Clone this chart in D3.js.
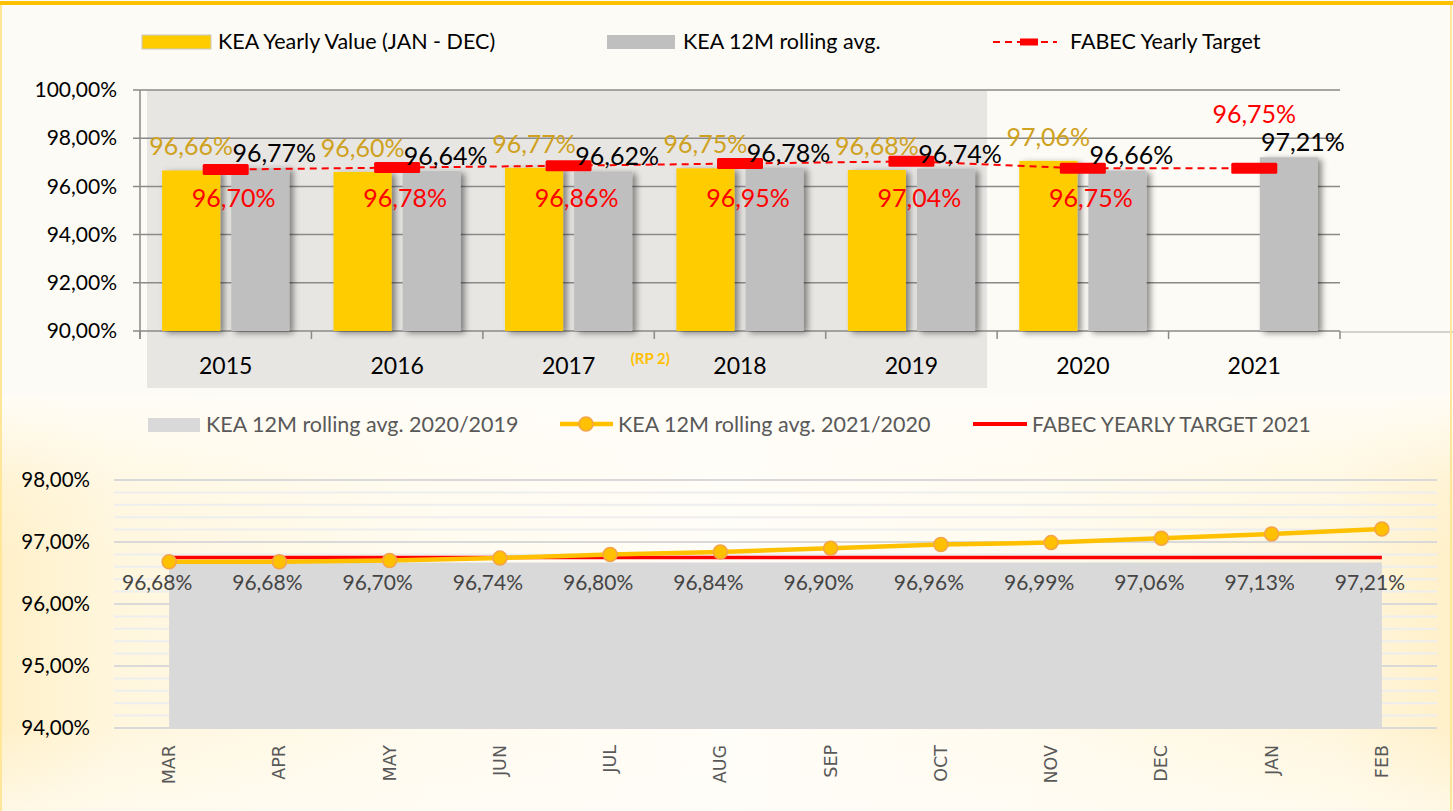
<!DOCTYPE html>
<html>
<head>
<meta charset="utf-8">
<script src="https://cdn.jsdelivr.net/npm/d3@7"></script>
<style>
  body { margin: 0; background: #fff; }
  svg { display: block; font-family: Lato, "Open Sans", sans-serif; }
</style>
</head>
<body>
<div class="chart"></div>
<script>
var svgWidth = 1453;
var svgHeight = 811;

// top chart data
var years = ["2015", "2016", "2017", "2018", "2019", "2020", "2021"];
var yearlyValue = [96.66, 96.60, 96.77, 96.75, 96.68, 97.06, null];
var rollingAvg = [96.77, 96.64, 96.62, 96.78, 96.74, 96.66, 97.21];
var yearlyTarget = [96.70, 96.78, 96.86, 96.95, 97.04, 96.75, 96.75];
var topTicks = [90, 92, 94, 96, 98, 100];

// bottom chart data
var months = ["MAR", "APR", "MAY", "JUN", "JUL", "AUG", "SEP", "OCT", "NOV", "DEC", "JAN", "FEB"];
var rolling2020 = [96.67, 96.67, 96.67, 96.67, 96.67, 96.67, 96.67, 96.67, 96.67, 96.67, 96.67, 96.67];
var rolling2021 = [96.68, 96.68, 96.70, 96.74, 96.80, 96.84, 96.90, 96.96, 96.99, 97.06, 97.13, 97.21];
var target2021 = [96.75, 96.75, 96.75, 96.75, 96.75, 96.75, 96.75, 96.75, 96.75, 96.75, 96.75, 96.75];
var bottomTicks = [94, 95, 96, 97, 98];

function pct(v) { return v.toFixed(2).replace(".", ",") + "%"; }

var svg = d3.select(".chart")
  .append("svg")
  .attr("width", svgWidth)
  .attr("height", svgHeight);

var defs = svg.append("defs");
var shadow = defs.append("filter").attr("id", "shadow")
  .attr("x", "-20%").attr("y", "-10%").attr("width", "150%").attr("height", "130%");
shadow.append("feDropShadow").attr("dx", 4).attr("dy", 2).attr("stdDeviation", 3)
  .attr("flood-color", "#000").attr("flood-opacity", 0.45);

// bottom background: yellow towards the sides, cream in the middle, fading at top
var hGrad = defs.append("linearGradient").attr("id", "bgH");
[[0, "#FFF0C8"], [0.08, "#FFF6DD"], [0.3, "#FFFBEF"], [0.5, "#FFFDF7"],
 [0.7, "#FFFBEF"], [0.92, "#FFF6DD"], [1, "#FFF0C8"]].forEach(function(s) {
  hGrad.append("stop").attr("offset", s[0]).attr("stop-color", s[1]);
});
var vGrad = defs.append("linearGradient").attr("id", "bgV")
  .attr("x1", 0).attr("y1", 0).attr("x2", 0).attr("y2", 1);
[[0, 0.95], [0.22, 0.2], [0.4, 0], [0.8, 0], [1, 0.6]].forEach(function(s) {
  vGrad.append("stop").attr("offset", s[0]).attr("stop-color", "#FFFDF8").attr("stop-opacity", s[1]);
});

// backgrounds
svg.append("rect").attr("x", 0).attr("y", 0).attr("width", svgWidth).attr("height", 396)
  .attr("fill", "#FDFBF5");
svg.append("rect").attr("x", 0).attr("y", 396).attr("width", svgWidth).attr("height", svgHeight - 396)
  .attr("fill", "url(#bgH)");
svg.append("rect").attr("x", 0).attr("y", 396).attr("width", svgWidth).attr("height", svgHeight - 396)
  .attr("fill", "url(#bgV)");

// ================= TOP CHART =================
var topG = svg.append("g");

var x = d3.scaleBand().domain(years).range([140, 1340]);
var sub = d3.scaleBand().domain(["value", "avg"]).range([0, x.bandwidth()])
  .paddingInner(0.16).paddingOuter(0.32);
var y = d3.scaleLinear().domain([90, 100]).range([331, 90]);

// RP2 shaded period
topG.append("rect")
  .attr("x", x("2015") + 7)
  .attr("y", y(100))
  .attr("width", x("2020") - 10 - (x("2015") + 7))
  .attr("height", 388 - y(100))
  .attr("fill", "#E8E6E3");

// gridlines
topG.append("g").selectAll("line").data(topTicks).enter().append("line")
  .attr("x1", 133).attr("x2", 1340)
  .attr("y1", function(d) { return y(d); }).attr("y2", function(d) { return y(d); })
  .attr("stroke", "#8a8a8a").attr("stroke-width", 1.5);

// y axis
var leftAxis = d3.axisLeft(y).tickValues(topTicks).tickSize(0).tickPadding(23).tickFormat(pct);
topG.append("g").attr("transform", "translate(140,0)").call(leftAxis)
  .call(function(g) { g.select(".domain").remove(); })
  .selectAll("text").attr("font-size", 21).attr("fill", "#000").attr("font-family", "Lato");
topG.append("line").attr("x1", 140).attr("x2", 140).attr("y1", y(100)).attr("y2", 339)
  .attr("stroke", "#8a8a8a").attr("stroke-width", 1.5);

// line to right edge
topG.append("line").attr("x1", 1340).attr("x2", svgWidth).attr("y1", 332).attr("y2", 332)
  .attr("stroke", "#c4c4c4").attr("stroke-width", 1.5);

// x ticks at band edges
var edges = years.map(function(d) { return x(d); }).concat([x.range()[1]]);
topG.append("g").selectAll("line").data(edges).enter().append("line")
  .attr("x1", function(d) { return d; }).attr("x2", function(d) { return d; })
  .attr("y1", y(90)).attr("y2", y(90) + 8)
  .attr("stroke", "#8a8a8a").attr("stroke-width", 1.5);

// bars
var barsG = topG.append("g");
years.forEach(function(yr, i) {
  if (yearlyValue[i] != null) {
    barsG.append("rect")
      .attr("x", x(yr) + sub("value")).attr("y", y(yearlyValue[i]))
      .attr("width", sub.bandwidth()).attr("height", y(90) - y(yearlyValue[i]))
      .attr("fill", "#FFCC00").attr("filter", "url(#shadow)");
  }
  barsG.append("rect")
    .attr("x", x(yr) + sub("avg")).attr("y", y(rollingAvg[i]))
    .attr("width", sub.bandwidth()).attr("height", y(90) - y(rollingAvg[i]))
    .attr("fill", "#BFBFBF").attr("filter", "url(#shadow)");
});

// target dashed line + markers
var targetLine = d3.line()
  .x(function(d, i) { return x(years[i]) + x.bandwidth() / 2; })
  .y(function(d) { return y(d); });
topG.append("path").datum(yearlyTarget).attr("d", targetLine)
  .attr("fill", "none").attr("stroke", "#FF0000").attr("stroke-width", 2)
  .attr("stroke-dasharray", "7,5");
topG.append("g").selectAll("rect").data(yearlyTarget).enter().append("rect")
  .attr("x", function(d, i) { return x(years[i]) + x.bandwidth() / 2 - 23; })
  .attr("y", function(d) { return y(d) - 5.5; })
  .attr("width", 46).attr("height", 11).attr("rx", 1.5)
  .attr("fill", "#FF0000");

// labels
var lbl = topG.append("g").attr("font-family", "Lato").attr("font-size", 25).attr("text-anchor", "middle");
years.forEach(function(yr, i) {
  if (yearlyValue[i] != null) {
    lbl.append("text")
      .attr("x", x(yr) + sub("value") + sub.bandwidth() / 2)
      .attr("y", y(yearlyValue[i]) - 15)
      .attr("fill", "#CFA120").text(pct(yearlyValue[i]));
  }
  lbl.append("text")
    .attr("x", x(yr) + sub("avg") + sub.bandwidth() / 2 + 14)
    .attr("y", y(rollingAvg[i]) - 6)
    .attr("fill", "#000").text(pct(rollingAvg[i]));
  var last = i === years.length - 1;
  lbl.append("text")
    .attr("x", x(yr) + x.bandwidth() / 2 + (last ? 0 : 8))
    .attr("y", last ? y(yearlyTarget[i]) - 45 : y(96) + 21)
    .attr("fill", "#FF0000").text(pct(yearlyTarget[i]));
});

// x labels
topG.append("g").selectAll("text").data(years).enter().append("text")
  .attr("x", function(d) { return x(d) + x.bandwidth() / 2; })
  .attr("y", 374)
  .attr("text-anchor", "middle").attr("font-size", 23).attr("fill", "#000")
  .text(function(d) { return d; });
topG.append("text").attr("x", x("2018") - 4).attr("y", 364)
  .attr("text-anchor", "middle").attr("font-size", 15).attr("font-weight", "bold")
  .attr("fill", "#FFC000").text("(RP 2)");

// top legend
var lg = topG.append("g").attr("font-size", 21.5).attr("fill", "#000");
lg.append("rect").attr("x", 142).attr("y", 35).attr("width", 69).attr("height", 14)
  .attr("fill", "#FFCC00").attr("stroke", "#c8c8c8").attr("stroke-width", 1);
lg.append("text").attr("x", 218).attr("y", 49).text("KEA Yearly Value (JAN - DEC)");
lg.append("rect").attr("x", 607).attr("y", 35).attr("width", 68).attr("height", 14)
  .attr("fill", "#BFBFBF");
lg.append("text").attr("x", 683).attr("y", 49).text("KEA 12M rolling avg.");
lg.append("line").attr("x1", 993).attr("x2", 1057).attr("y1", 42).attr("y2", 42)
  .attr("stroke", "#FF0000").attr("stroke-width", 2).attr("stroke-dasharray", "7,5");
lg.append("rect").attr("x", 1020).attr("y", 38.5).attr("width", 18).attr("height", 7)
  .attr("fill", "#FF0000");
lg.append("text").attr("x", 1070).attr("y", 49).text("FABEC Yearly Target");

// ================= BOTTOM CHART =================
var bot = svg.append("g");
var xb = d3.scaleBand().domain(months).range([114, 1437]);
var yb = d3.scaleLinear().domain([94, 98]).range([728, 480]);
function px(i) { return xb(months[i]) + xb.bandwidth() / 2; }

// minor + major gridlines
var minor = d3.range(94, 98.001, 0.2);
bot.append("g").selectAll("line").data(minor).enter().append("line")
  .attr("x1", 114).attr("x2", 1437)
  .attr("y1", function(d) { return yb(d); }).attr("y2", function(d) { return yb(d); })
  .attr("stroke", "#EEEEEE").attr("stroke-width", 2);
bot.append("g").selectAll("line").data(bottomTicks).enter().append("line")
  .attr("x1", 114).attr("x2", 1437)
  .attr("y1", function(d) { return yb(d); }).attr("y2", function(d) { return yb(d); })
  .attr("stroke", "#D9D9D9").attr("stroke-width", 2);

// gray area
var area = d3.area()
  .x(function(d, i) { return px(i); })
  .y0(yb(94))
  .y1(function(d) { return yb(d); });
bot.append("path").datum(rolling2020).attr("d", area).attr("fill", "#D9D9D9");

// red target
var lineB = d3.line().x(function(d, i) { return px(i); }).y(function(d) { return yb(d); });
bot.append("path").datum(target2021).attr("d", lineB)
  .attr("fill", "none").attr("stroke", "#FF0000").attr("stroke-width", 3.5);

// orange line + markers
bot.append("path").datum(rolling2021).attr("d", lineB)
  .attr("fill", "none").attr("stroke", "#FFC000").attr("stroke-width", 4.5);
bot.append("g").selectAll("circle").data(rolling2021).enter().append("circle")
  .attr("cx", function(d, i) { return px(i); })
  .attr("cy", function(d) { return yb(d); })
  .attr("r", 7)
  .attr("fill", "#FFC000").attr("stroke", "#F5A349").attr("stroke-width", 1.5);

// data labels
bot.append("g").selectAll("text").data(rolling2021).enter().append("text")
  .attr("x", function(d, i) { return px(i) - 12; })
  .attr("y", yb(96.75) + 32)
  .attr("text-anchor", "middle").attr("font-size", 21).attr("fill", "#454545")
  .text(function(d) { return pct(d); });

// y axis labels
var leftAxisB = d3.axisLeft(yb).tickValues(bottomTicks).tickSize(0).tickPadding(24).tickFormat(pct);
bot.append("g").attr("transform", "translate(114,0)").call(leftAxisB)
  .call(function(g) { g.select(".domain").remove(); })
  .selectAll("text").attr("font-size", 20.5).attr("fill", "#000").attr("font-family", "Lato");

// month labels
bot.append("g").selectAll("text").data(months).enter().append("text")
  .attr("transform", function(d, i) { return "translate(" + (px(i) + 6) + ",745) rotate(-90)"; })
  .attr("text-anchor", "end").attr("font-size", 17.5).attr("fill", "#595959")
  .attr("font-family", "DejaVu Sans")
  .text(function(d) { return d; });

// bottom legend
var lb = bot.append("g").attr("font-size", 21.5).attr("fill", "#595959");
lb.append("rect").attr("x", 148).attr("y", 418).attr("width", 52).attr("height", 14).attr("fill", "#D9D9D9");
lb.append("text").attr("x", 206).attr("y", 432).text("KEA 12M rolling avg. 2020/2019");
lb.append("line").attr("x1", 560).attr("x2", 613).attr("y1", 424).attr("y2", 424)
  .attr("stroke", "#FFC000").attr("stroke-width", 4.5);
lb.append("circle").attr("cx", 586).attr("cy", 424).attr("r", 7)
  .attr("fill", "#FFC000").attr("stroke", "#F5A349").attr("stroke-width", 1.5);
lb.append("text").attr("x", 618).attr("y", 432).text("KEA 12M rolling avg. 2021/2020");
lb.append("line").attr("x1", 973).attr("x2", 1027).attr("y1", 424).attr("y2", 424)
  .attr("stroke", "#FF0000").attr("stroke-width", 4);
lb.append("text").attr("x", 1032).attr("y", 432).attr("font-size", 21).text("FABEC YEARLY TARGET 2021");

// frame
svg.append("rect").attr("x", 0).attr("y", 1).attr("width", svgWidth).attr("height", 4).attr("fill", "#FFC000");
svg.append("rect").attr("x", 0).attr("y", 5).attr("width", 2).attr("height", svgHeight).attr("fill", "#FFE699");
svg.append("rect").attr("x", 1450).attr("y", 5).attr("width", 2).attr("height", svgHeight).attr("fill", "#FFE699");
</script>
</body>
</html>
